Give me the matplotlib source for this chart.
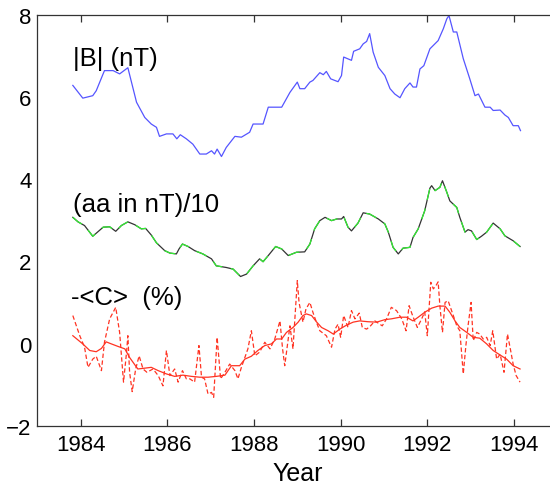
import numpy as np
import matplotlib.pyplot as plt

plt.rcParams['font.family'] = ['Liberation Sans', 'DejaVu Sans']

# |B| (nT)
b_year = [1983.82, 1984.05, 1984.28, 1984.36, 1984.55, 1984.75, 1984.90, 1985.09,
          1985.29, 1985.48, 1985.63, 1985.75, 1985.82, 1985.98, 1986.13, 1986.22,
          1986.30, 1986.44, 1986.59, 1986.75, 1986.90, 1987.02, 1987.09, 1987.15,
          1987.25, 1987.36, 1987.56, 1987.71, 1987.90, 1987.98, 1988.21, 1988.33,
          1988.64, 1988.83, 1989.00, 1989.06, 1989.17, 1989.29, 1989.36, 1989.52,
          1989.60, 1989.67, 1989.77, 1989.94, 1990.02, 1990.07, 1990.25, 1990.30,
          1990.44, 1990.52, 1990.60, 1990.67, 1990.75, 1990.87, 1991.02, 1991.14,
          1991.25, 1991.37, 1991.48, 1991.60, 1991.67, 1991.75, 1991.83, 1991.92,
          1992.06, 1992.25, 1992.37, 1992.45, 1992.50, 1992.60, 1992.68, 1992.83,
          1992.98, 1993.10, 1993.18, 1993.33, 1993.45, 1993.52, 1993.68, 1993.79,
          1993.87, 1993.98, 1994.10, 1994.15]
b_val = [6.28, 5.97, 6.03, 6.15, 6.64, 6.64, 6.56, 6.71,
         5.87, 5.50, 5.34, 5.26, 5.04, 5.10, 5.10, 4.98,
         5.08, 4.98, 4.85, 4.61, 4.61, 4.69, 4.61, 4.73,
         4.55, 4.77, 5.04, 5.02, 5.14, 5.34, 5.34, 5.75,
         5.75, 6.11, 6.36, 6.20, 6.20, 6.36, 6.40, 6.59,
         6.54, 6.62, 6.44, 6.37, 6.52, 6.97, 6.89, 7.11,
         7.17, 7.29, 7.35, 7.54, 7.09, 6.72, 6.52, 6.20,
         6.07, 5.98, 6.20, 6.34, 6.24, 6.24, 6.68, 6.76,
         7.17, 7.37, 7.66, 7.90, 7.98, 7.58, 7.58, 6.93,
         6.44, 6.03, 6.07, 5.75, 5.75, 5.67, 5.68, 5.56,
         5.50, 5.30, 5.30, 5.18]

# (aa in nT)/10
aa_year = [1983.82, 1983.94, 1984.09, 1984.28, 1984.40, 1984.52, 1984.67, 1984.81,
           1984.94, 1985.09, 1985.25, 1985.40, 1985.50, 1985.63, 1985.75, 1985.94,
           1986.06, 1986.21, 1986.27, 1986.35, 1986.48, 1986.63, 1986.82, 1987.02,
           1987.13, 1987.36, 1987.52, 1987.69, 1987.83, 1987.98, 1988.13, 1988.21,
           1988.33, 1988.50, 1988.64, 1988.79, 1988.98, 1989.17, 1989.29, 1989.40,
           1989.52, 1989.64, 1989.79, 1989.91, 1990.02, 1990.07, 1990.17, 1990.25,
           1990.40, 1990.52, 1990.67, 1990.87, 1991.02, 1991.10, 1991.21, 1991.33,
           1991.44, 1991.60, 1991.67, 1991.79, 1991.94, 1992.06, 1992.10, 1992.18,
           1992.29, 1992.35, 1992.45, 1992.52, 1992.68, 1992.75, 1992.87, 1992.94,
           1993.02, 1993.14, 1993.25, 1993.37, 1993.52, 1993.68, 1993.79, 1993.98,
           1994.14]
aa_val = [3.07, 2.96, 2.87, 2.61, 2.72, 2.83, 2.84, 2.73,
          2.87, 2.96, 2.89, 2.79, 2.80, 2.64, 2.45, 2.26,
          2.20, 2.18, 2.30, 2.42, 2.36, 2.26, 2.18, 2.06,
          1.89, 1.85, 1.81, 1.63, 1.69, 1.89, 2.06, 1.99,
          2.14, 2.36, 2.30, 2.14, 2.22, 2.23, 2.42, 2.79,
          2.99, 3.07, 2.99, 3.03, 3.03, 3.09, 2.83, 2.74,
          2.93, 3.18, 3.15, 3.03, 2.91, 2.71, 2.34, 2.18,
          2.32, 2.34, 2.58, 2.79, 3.23, 3.78, 3.84, 3.72,
          3.80, 3.96, 3.68, 3.47, 3.31, 3.07, 2.71, 2.77,
          2.74, 2.53, 2.61, 2.71, 2.93, 2.79, 2.62, 2.50,
          2.36]

# -<C> (%), smoothed
cs_year = [1983.82, 1984.05, 1984.21, 1984.36, 1984.48, 1984.59, 1984.71, 1984.86,
           1985.02, 1985.13, 1985.32, 1985.48, 1985.63, 1985.79, 1985.98, 1986.17,
           1986.36, 1986.56, 1986.75, 1986.94, 1987.13, 1987.33, 1987.48, 1987.67,
           1987.79, 1987.94, 1988.09, 1988.25, 1988.40, 1988.52, 1988.64, 1988.75,
           1988.90, 1989.02, 1989.13, 1989.21, 1989.33, 1989.44, 1989.56, 1989.71,
           1989.83, 1989.98, 1990.14, 1990.29, 1990.44, 1990.63, 1990.83, 1991.02,
           1991.17, 1991.37, 1991.52, 1991.67, 1991.79, 1991.94, 1992.10, 1992.25,
           1992.41, 1992.52, 1992.64, 1992.75, 1992.91, 1993.06, 1993.21, 1993.37,
           1993.52, 1993.68, 1993.83, 1993.98, 1994.14]
cs_val = [0.19, -0.01, -0.17, -0.20, -0.12, 0.04, -0.01, -0.07,
          -0.13, -0.34, -0.62, -0.60, -0.58, -0.66, -0.74, -0.80,
          -0.77, -0.80, -0.82, -0.82, -0.80, -0.77, -0.54, -0.54,
          -0.38, -0.31, -0.17, -0.05, -0.01, 0.11, 0.11, 0.27,
          0.39, 0.52, 0.68, 0.72, 0.68, 0.53, 0.39, 0.31,
          0.23, 0.35, 0.45, 0.52, 0.55, 0.53, 0.52, 0.58,
          0.60, 0.64, 0.64, 0.55, 0.64, 0.76, 0.86, 0.91,
          0.91, 0.76, 0.55, 0.39, 0.27, 0.15, 0.13, -0.01,
          -0.17, -0.28, -0.38, -0.54, -0.62]

# -<C> (%), per rotation
cr_year = [1983.82, 1983.98, 1984.09, 1984.17, 1984.28, 1984.36, 1984.48, 1984.55,
           1984.67, 1984.81, 1984.90, 1984.96, 1984.99, 1985.06, 1985.09, 1985.13,
           1985.19, 1985.27, 1985.35, 1985.44, 1985.53, 1985.67, 1985.79, 1985.90,
           1985.98, 1986.06, 1986.17, 1986.25, 1986.35, 1986.44, 1986.52, 1986.63,
           1986.73, 1986.79, 1986.86, 1986.94, 1987.02, 1987.07, 1987.15, 1987.23,
           1987.33, 1987.44, 1987.56, 1987.63, 1987.71, 1987.79, 1987.86, 1987.94,
           1988.02, 1988.13, 1988.25, 1988.37, 1988.48, 1988.60, 1988.66, 1988.71,
           1988.83, 1988.90, 1989.00, 1989.04, 1989.13, 1989.20, 1989.29, 1989.36,
           1989.44, 1989.52, 1989.67, 1989.79, 1989.87, 1989.94, 1990.00, 1990.07,
           1990.17, 1990.25, 1990.33, 1990.43, 1990.50, 1990.60, 1990.69, 1990.79,
           1990.96, 1991.06, 1991.17, 1991.29, 1991.41, 1991.51, 1991.58, 1991.66,
           1991.77, 1991.87, 1991.94, 1992.00, 1992.08, 1992.14, 1992.20, 1992.25,
           1992.29, 1992.35, 1992.41, 1992.48, 1992.60, 1992.68, 1992.75, 1992.83,
           1992.89, 1992.94, 1993.01, 1993.06, 1993.14, 1993.21, 1993.29, 1993.37,
           1993.45, 1993.51, 1993.60, 1993.68, 1993.77, 1993.85, 1993.93, 1993.98,
           1994.05, 1994.14]
cr_val = [0.68, 0.19, -0.09, -0.58, -0.38, -0.31, -0.66, 0.03,
          0.60, 0.88, 0.27, -0.54, -0.94, -0.21, 0.19, -0.70,
          -1.17, -0.62, -0.30, -0.62, -0.70, -0.62, -0.78, -1.03,
          -0.17, -0.78, -0.62, -0.94, -0.66, -0.86, -0.86, -0.94,
          -0.05, -0.82, -0.86, -1.23, -1.19, -1.31, 0.15, -0.86,
          -0.70, -0.50, -0.66, -0.86, -0.58, -0.34, -0.13, 0.31,
          -0.30, -0.21, 0.03, -0.13, 0.11, 0.55, -0.13, -0.54,
          0.43, -0.13, 1.53, 1.00, 0.52, 0.84, 1.00, 0.76,
          0.52, 0.31, 0.19, -0.09, 0.35, 0.47, 0.15, 0.68,
          0.39, 0.80, 0.60, 0.74, 0.39, 0.35, 0.43, 0.55,
          0.43, 0.60, 0.88, 0.80, 0.60, 0.31, 0.92, 0.68,
          0.39, 0.60, 0.77, 0.19, 1.49, 1.33, 1.41, 1.50,
          0.92, 0.27, 1.00, 1.04, 0.68, 0.43, 0.31, -0.74,
          -0.05, 0.43, 1.00, 0.07, 0.27, 0.23, 0.11, 0.15,
          -0.05, 0.31, -0.38, -0.26, -0.70, 0.23, -0.21, -0.50,
          -0.78, -0.94]

x_ticks = [1984, 1986, 1988, 1990, 1992, 1994]
y_ticks = [-2, 0, 2, 4, 6, 8]

fig = plt.figure(figsize=(5.5, 4.85), dpi=100)
ax = fig.add_axes([0.0678, 0.1202, 0.9455, 0.8474])

ax.plot(b_year, b_val, color='#5555ff', lw=0.9)
ax.plot(aa_year, aa_val, color='#333333', lw=0.9)
ax.plot(aa_year, aa_val, color='#33ee33', lw=0.9, linestyle=(0, (9, 7)))
ax.plot(cr_year, cr_val, color='#ff3322', lw=0.9, linestyle=(0, (3.5, 2)))
ax.plot(cs_year, cs_val, color='#ff3322', lw=0.9)

ax.text(1983.82, 6.78, '|B| (nT)', fontsize=18.5)
ax.text(1983.82, 3.22, '(aa in nT)/10', fontsize=18.5)
ax.text(1983.78, 0.95, '-<C>  (%)', fontsize=18.5)

ax.set_xlim(1983, 1995)
ax.set_ylim(-2, 8)
ax.set_xticks(x_ticks)
ax.set_yticks(y_ticks)
ax.tick_params(axis='x', direction='in', top=True, length=5, width=0.9,
               labelsize=16, pad=6, color='#333333')
ax.tick_params(axis='y', length=0, labelsize=16, pad=4)
ax.set_xlabel('Year', fontsize=18, labelpad=4)
for s in ax.spines.values():
    s.set_color('#333333')
    s.set_linewidth(0.9)

fig.savefig('out.png', dpi=100)
